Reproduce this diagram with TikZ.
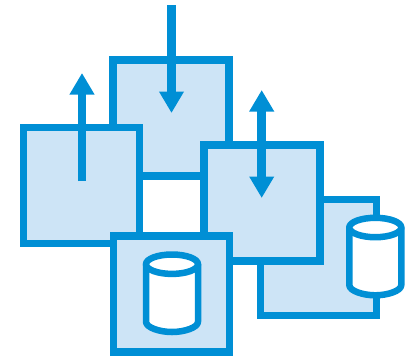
\documentclass[tikz,border=0pt]{standalone}
\usetikzlibrary{arrows.meta}
\definecolor{lineblue}{HTML}{008FD5}
\definecolor{fillblue}{HTML}{CDE4F6}
\tikzset{
  blockbox/.style={draw=lineblue,fill=fillblue,line width=7.8pt,minimum width=116pt,minimum height=116pt,inner sep=0pt,outer sep=0pt,rectangle},
  flowline/.style={draw=lineblue,line width=8.5pt,-{Triangle[length=21.5pt,width=23.5pt]}},
  flowboth/.style={draw=lineblue,line width=8.5pt,{Triangle[length=21.5pt,width=23.5pt]}-{Triangle[length=21.5pt,width=23.5pt]}},
  drum/.style={draw=lineblue,line width=6.5pt,fill=white,line join=round},
}
\newcommand{\drumshape}[2]{% centre x, top outer y
  \begin{scope}[shift={(#1,#2)}]
    \path[drum] (-26,12.5) -- (-26,70) .. controls (-26,76) and (-12,80.3) .. (0,80.3) .. controls (12,80.3) and (26,76) .. (26,70) -- (26,12.5) -- cycle;
    \path[drum] (0,12.5) ellipse [x radius=26,y radius=9.7];
  \end{scope}
}
\begin{document}
\begin{tikzpicture}[x=1pt,y=-1pt]
  \useasboundingbox (0,0) rectangle (412,360);
  \node[blockbox] (boxD) at (318.5,257.5) {};
  \drumshape{375.3}{215}
  \node[blockbox] (boxB) at (171,118) {};
  \node[blockbox] (boxA) at (81.5,185.5) {};
  \node[blockbox] (boxC) at (262,203) {};
  \node[blockbox] (boxE) at (171.5,294) {};
  \drumshape{172}{251.7}
  \coordinate (aIn) at (82,181);
  \coordinate (aOut) at (82,73);
  \coordinate (bIn) at (171.5,5);
  \coordinate (bOut) at (171.5,113);
  \coordinate (cTop) at (261.7,90);
  \coordinate (cBot) at (261.7,198);
  \draw[flowline] (aIn) -- (aOut);
  \draw[flowline] (bIn) -- (bOut);
  \draw[flowboth] (cTop) -- (cBot);
\end{tikzpicture}
\end{document}
